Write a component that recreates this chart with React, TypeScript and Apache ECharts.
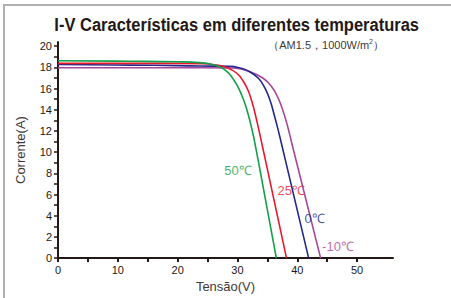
import React, { useEffect, useRef } from "react";
import * as echarts from "echarts";

const temps = ["50℃", "25℃", "0℃", "-10℃"];
const colors = ["#12a04a", "#e8192c", "#22288f", "#a8479a"];

const curve50: number[][] = [[0,18.63],[12,18.58],[20,18.53],[23.7,18.45],[25.6,18.3],[27.1,18.05],[28.0,17.72],[28.8,17.29],[29.9,16.36],[30.7,15.4],[31.3,14.5],[31.8,13.55],[32.4,12.2],[32.9,10.9],[36.5,0]];
const curve25: number[][] = [[0,18.38],[12,18.38],[20,18.38],[23.7,18.35],[26.2,18.25],[28.2,18.0],[29.9,17.45],[31.0,16.67],[31.8,15.8],[32.4,14.8],[32.9,13.75],[33.5,12.3],[34.1,10.75],[38.2,0]];
const curve0: number[][] = [[0,18.27],[12,18.22],[20,18.17],[23.7,18.13],[28.8,18.1],[30.4,17.95],[31.6,17.72],[33.5,16.98],[34.6,16.04],[35.5,14.8],[36.1,13.6],[36.8,12.1],[37.4,10.7],[41.9,0]];
const curveM10: number[][] = [[0,17.97],[12,17.97],[20,17.97],[23.7,17.97],[29.3,17.95],[32.1,17.6],[34.3,16.98],[35.7,16.2],[36.8,15.1],[37.7,13.75],[38.4,12.4],[39.1,10.8],[43.9,0]];
const curves = [curve50, curve25, curve0, curveM10];

const labelPos: number[][] = [[30.1, 8.3], [39.0, 6.4], [42.9, 3.7], [46.8, 1.1]];

const xTicks = [0, 5, 10, 15, 20, 25, 30, 35, 40, 45, 50];
const xLabels = [0, 10, 20, 30, 40, 50];
const yTicks = Array.from({ length: 21 }, (_, i) => i);
const yLabels = [0, 2, 4, 6, 8, 10, 12, 14, 16, 18, 20];

const titleText = "I-V Características em diferentes temperaturas";
const xName = "Tensão(V)";
const yName = "Corrente(A)";

export default function App() {
  const ref = useRef<HTMLDivElement>(null);
  useEffect(() => {
    if (!ref.current) return;
    const chart = echarts.init(ref.current, null, { renderer: "svg" });
    const axisColor = "#231815";
    const font = "Liberation Sans, Arial, sans-serif";
    const series: any[] = curves.map((c, i) => ({
      type: "line",
      name: temps[i],
      data: c,
      smooth: 0.45,
      showSymbol: false,
      lineStyle: { color: colors[i], width: 1.6 },
      z: 4 - i,
    }));
    temps.forEach((t, i) => {
      series.push({
        type: "scatter",
        data: [labelPos[i]],
        symbolSize: 0,
        silent: true,
        label: {
          show: true,
          position: "inside",
          formatter: t,
          color: colors[i],
          fontSize: 13,
          fontFamily: font,
        },
        z: 10,
      });
    });
    chart.setOption({
      animation: false,
      backgroundColor: "#fff",
      textStyle: { fontFamily: font },
      grid: { left: 58, top: 42, right: 58, bottom: 38 },
      xAxis: {
        type: "value",
        min: 0,
        max: 56,
        interval: 5,
        name: xName,
        nameLocation: "middle",
        nameGap: 21,
        nameTextStyle: { color: "#3e3a39", fontSize: 13, fontFamily: font },
        axisLine: { lineStyle: { color: axisColor, width: 2 } },
        axisTick: { customValues: xTicks, length: 4, lineStyle: { color: axisColor, width: 2 } },
        axisLabel: { customValues: xLabels, color: axisColor, fontSize: 11, margin: 6 },
        splitLine: { show: false },
      },
      yAxis: {
        type: "value",
        min: 0,
        max: 20.4,
        interval: 1,
        name: yName,
        nameLocation: "middle",
        nameGap: 31,
        nameTextStyle: { color: "#3e3a39", fontSize: 13, fontFamily: font },
        axisLine: { onZero: false, lineStyle: { color: axisColor, width: 2 } },
        axisTick: { customValues: yTicks, length: 4, lineStyle: { color: axisColor, width: 1.5 } },
        axisLabel: { customValues: yLabels, color: axisColor, fontSize: 11, margin: 6 },
        splitLine: { show: false },
      },
      graphic: [
        { type: "line", z: 100, shape: { x1: 3, y1: 5, x2: 451, y2: 5 }, style: { stroke: "#b0b0b0", lineWidth: 2 } },
        { type: "line", z: 100, shape: { x1: 4, y1: 4, x2: 4, y2: 298 }, style: { stroke: "#b0b0b0", lineWidth: 2 } },
        {
          type: "text",
          x: 419,
          y: 15,
          scaleY: 1.1,
          style: {
            text: titleText,
            fill: "#231815",
            align: "right",
            verticalAlign: "top",
            font: "bold 16.5px Liberation Sans, Arial, sans-serif",
          },
        },
        {
          type: "text",
          x: 384,
          y: 38,
          style: {
            text: "{a|（AM1.5，1000W/m}{s|2}{a|）}",
            align: "right",
            verticalAlign: "top",
            rich: {
              a: { fontSize: 11, fill: "#3e3a39", fontFamily: font },
              s: { fontSize: 7, fill: "#3e3a39", fontFamily: font, padding: [0, 0, 6, 0] },
            } as any,
          },
        },
      ],
      series,
    });
    return () => chart.dispose();
  }, []);
  return <div ref={ref} style={{ position: "fixed", left: 0, top: 0, width: 451, height: 298 }} />;
}
